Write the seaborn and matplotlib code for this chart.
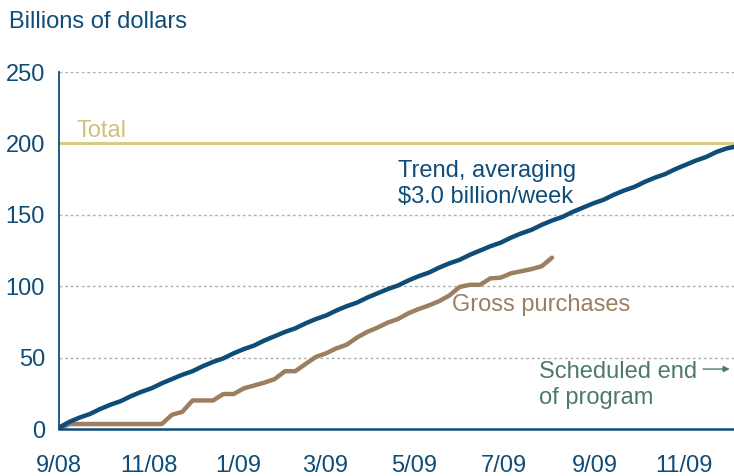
import pandas as pd
import matplotlib
matplotlib.use("Agg")
import matplotlib.pyplot as plt
import seaborn as sns

# weekly observations, starting 9/08
trend_values = [1, 5, 8, 10.5, 14, 17, 19.5, 23, 26, 28.5, 32, 35, 38, 40.5, 44, 47, 49.5,
                53, 56, 58.5, 62, 65, 68, 70.5, 74, 77, 79.5, 83, 86, 88.5, 92, 95, 98,
                100.5, 104, 107, 109.5, 113, 116, 118.5, 122, 125, 128, 130.5, 134, 137,
                139.5, 143, 146, 148.5, 152, 155, 158, 160.5, 164, 167, 169.5, 173, 176,
                178.5, 182, 185, 188, 190.5, 194, 196.5, 198]
gross_values = [0, 3.5, 3.5, 3.5, 3.5, 3.5, 3.5, 3.5, 3.5, 3.5, 3.5, 10, 12, 20, 20, 20,
                24.5, 24.5, 28.5, 30.5, 32.5, 35, 40.5, 40.5, 45.5, 50.5, 53, 56.5, 59, 64,
                68, 71, 74.5, 77, 81, 84, 86.5, 89.5, 93.5, 99.5, 101, 101, 105.5, 106, 109,
                110.5, 112, 114, 120]
total_program = 200

tick_dates = ["2008-09-01", "2008-11-01", "2009-01-01", "2009-03-01", "2009-05-01",
              "2009-07-01", "2009-09-01", "2009-11-01"]
tick_labels = ["9/08", "11/08", "1/09", "3/09", "5/09", "7/09", "9/09", "11/09"]

trend_df = pd.DataFrame({"date": pd.date_range("2008-09-01", periods=len(trend_values), freq="7D"),
                         "value": trend_values})
gross_df = pd.DataFrame({"date": pd.date_range("2008-09-01", periods=len(gross_values), freq="7D"),
                         "value": gross_values})

# colours
BLUE = "#0f4d78"
BROWN = "#9b7f60"
GOLD = "#d6cc8a"
GREEN = "#4d7a66"
TICKBLUE = "#8fa9c0"

sns.set_style("white")
plt.rcParams["font.family"] = ["Liberation Sans", "DejaVu Sans"]

fig = plt.figure(figsize=(7.34, 4.76), dpi=100)
ax = fig.add_axes([0.0804, 0.0987, 0.9196, 0.75])

ax.axhline(total_program, color=GOLD, lw=2.2, zorder=2)
sns.lineplot(data=trend_df, x="date", y="value", color=BLUE, lw=3.2, ax=ax, zorder=4)
sns.lineplot(data=gross_df, x="date", y="value", color=BROWN, lw=3.2, ax=ax, zorder=3)

ax.set_xlim(pd.Timestamp("2008-09-01"), pd.Timestamp("2009-12-05"))
ax.set_ylim(0, 250)
ax.set_yticks([0, 50, 100, 150, 200, 250])
ax.set_xticks(pd.to_datetime(tick_dates))
ax.set_xticklabels(tick_labels)
ax.set_xlabel("")
ax.set_ylabel("")

# dotted gridlines (not at zero)
for v in [50, 100, 150, 250]:
    ax.axhline(v, color="#b0b0b0", lw=1, linestyle=(0, (2, 2)), zorder=1)

for s in ["top", "right"]:
    ax.spines[s].set_visible(False)
ax.spines["left"].set_color(BLUE)
ax.spines["left"].set_linewidth(1.3)
ax.spines["bottom"].set_color(BLUE)
ax.spines["bottom"].set_linewidth(1.8)
ax.spines["bottom"].set_zorder(5)

ax.tick_params(axis="y", direction="in", length=5, width=1.3, color=BLUE,
               labelsize=17, labelcolor=BLUE, pad=10)
ax.tick_params(axis="x", direction="in", length=10, width=1.2, color=TICKBLUE,
               labelsize=17, labelcolor=BLUE, pad=19)

fig.text(0.012, 0.953, "Billions of dollars", fontsize=17, color=BLUE, va="center", ha="left")

ax.text(pd.Timestamp("2008-09-13"), 209, "Total", fontsize=17, color="#cfc27a", va="center")
ax.text(pd.Timestamp("2009-04-20"), 171.5, "Trend, averaging\n$3.0 billion/week",
        fontsize=17, color=BLUE, va="center", linespacing=1.25)
ax.text(pd.Timestamp("2009-05-27"), 86.5, "Gross purchases", fontsize=17, color=BROWN, va="center")
ax.text(pd.Timestamp("2009-07-25"), 31, "Scheduled end\nof program", fontsize=17, color=GREEN,
        va="center", linespacing=1.25)
ax.annotate("", xy=(pd.Timestamp("2009-12-04"), 42), xytext=(pd.Timestamp("2009-11-12"), 42),
            arrowprops=dict(arrowstyle="-|>", color=GREEN, lw=1, mutation_scale=9),
            annotation_clip=False)

fig.savefig("out.png", dpi=100)
